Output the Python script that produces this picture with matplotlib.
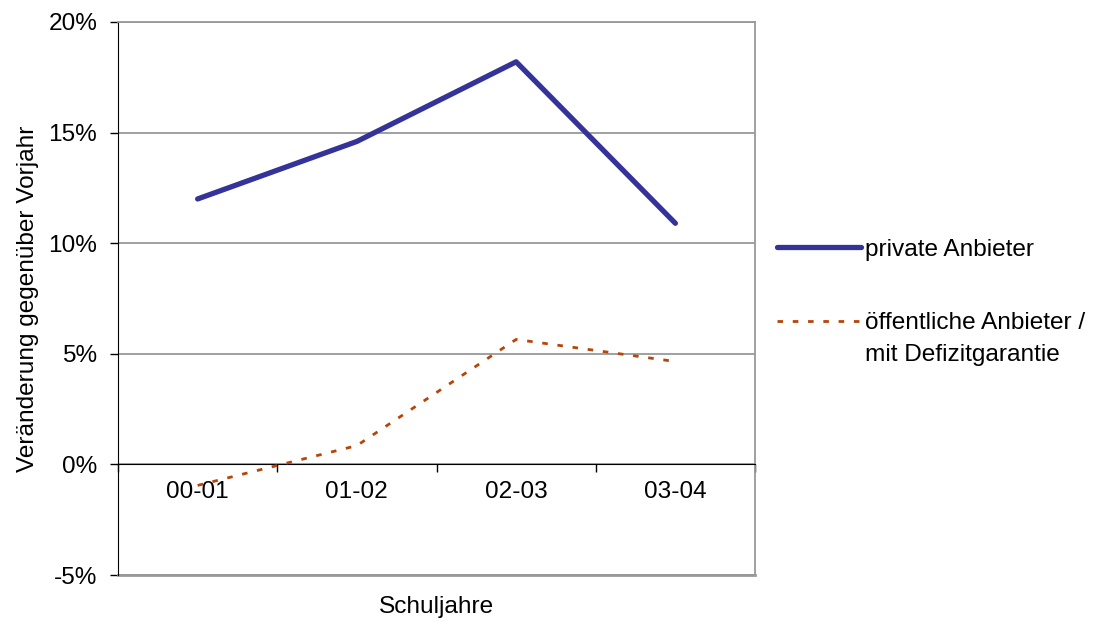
import matplotlib
matplotlib.use("Agg")
import matplotlib.pyplot as plt
from matplotlib.ticker import FuncFormatter, FixedLocator

plt.rcParams["font.family"] = ["Liberation Sans", "DejaVu Sans"]

years = ["00-01", "01-02", "02-03", "03-04"]
private = [12.0, 14.6, 18.2, 10.9]
public = [-0.95, 0.85, 5.65, 4.65]
yticks = [-5, 0, 5, 10, 15, 20]

fs = 17.6
fig = plt.figure(figsize=(10.93, 6.24), dpi=100)
ax = fig.add_axes([118/1093, 1-575/624, (755-118)/1093, (575-22)/624])

x = list(range(len(years)))
ax.plot(x, private, color="#333399", lw=3.8, solid_capstyle="round",
        label="private Anbieter", zorder=3)
ax.plot(x, public, color="#B5460A", lw=2, linestyle=(0, (2, 3.5)),
        label="öffentliche Anbieter /\nmit Defizitgarantie", zorder=3)

ax.set_xlim(-0.5, 3.5)
ax.set_ylim(yticks[0], yticks[-1])
ax.set_yticks(yticks)
ax.yaxis.set_major_formatter(FuncFormatter(lambda v, p: f"{v:.0f}%"))
ax.yaxis.grid(True, color="#999999", lw=1.3)
ax.axhline(yticks[0], color="#999999", lw=2, clip_on=False, zorder=1)
ax.set_axisbelow(True)

ax.set_xticks(x)
ax.set_xticklabels(years)
ax.xaxis.set_minor_locator(FixedLocator([-0.5, 0.5, 1.5, 2.5, 3.5]))
ax.tick_params(axis="x", which="major", length=0, pad=12, labelsize=fs)
ax.tick_params(axis="x", which="minor", length=6, width=1, color="black", direction="out")
ax.tick_params(axis="y", length=6, width=1, pad=9, labelsize=fs)

ax.spines["bottom"].set_position(("data", 0))
ax.spines["bottom"].set_color("black")
ax.spines["left"].set_color("black")
ax.spines["left"].set_zorder(2)
ax.spines["top"].set_color("#999999")
ax.spines["right"].set_color("#999999")
for s in ["top", "right"]:
    ax.spines[s].set_linewidth(1.3)

ax.set_ylabel("Veränderung gegenüber Vorjahr", fontsize=fs, labelpad=7)
fig.text(436/1093, 1-607/624, "Schuljahre", fontsize=fs, ha="center", va="center")

leg = ax.legend(loc="upper left", bbox_to_anchor=((774-118)/637 - 0.01, 1-(229-22)/553),
                frameon=False, fontsize=fs, handlelength=3.4, handletextpad=0.2,
                labelspacing=2.1, borderaxespad=0)
for t in leg.get_texts():
    t.set_linespacing(1.6)
# put the legend key next to the first text line
for col in leg._legend_handle_box.get_children():
    for row in col.get_children():
        row.align = "top"

fig.savefig("out.png", dpi=100)
